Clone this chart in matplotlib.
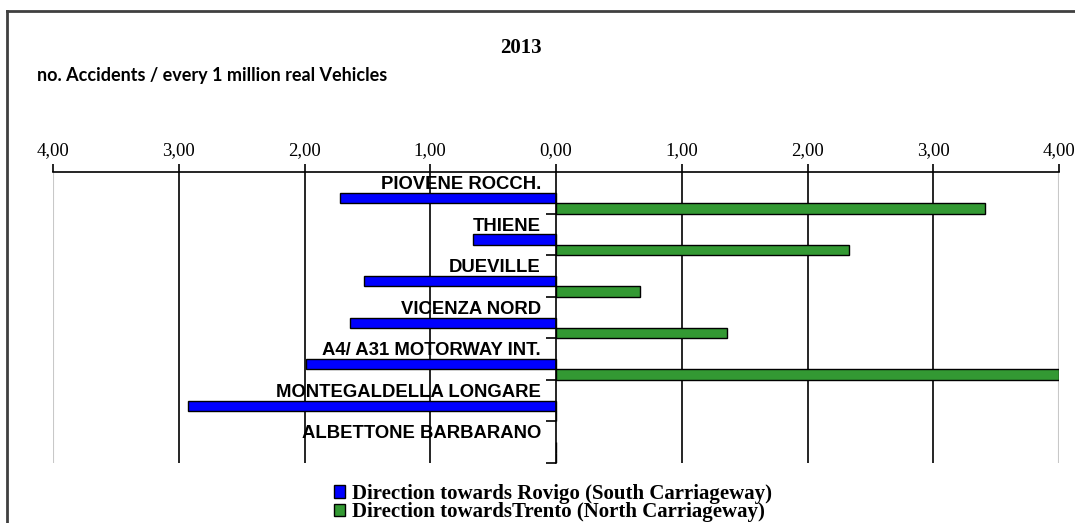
import numpy as np
import matplotlib
matplotlib.use("Agg")
import matplotlib.pyplot as plt
from matplotlib.lines import Line2D
from matplotlib.patches import Patch
from matplotlib.ticker import FuncFormatter

stations = ["PIOVENE ROCCH.", "THIENE", "DUEVILLE", "VICENZA NORD",
            "A4/ A31 MOTORWAY INT.", "MONTEGALDELLA LONGARE", "ALBETTONE BARBARANO"]
south = [1.72, 0.66, 1.53, 1.64, 1.99, 2.93, 0.0]   # towards Rovigo
north = [3.41, 2.33, 0.67, 1.36, 4.0, 0.0, 0.0]     # towards Trento
ticks = [-4, -3, -2, -1, 0, 1, 2, 3, 4]

W, H = 1075, 523
fig = plt.figure(figsize=(W / 100, H / 100), dpi=100)
ax = fig.add_axes([53 / W, 1 - 463 / H, (1059 - 53) / W, (463 - 172) / H])

y = np.arange(len(stations))
ax.barh(y + 0.125, [-v for v in south], height=0.25, color="#0000FF",
        edgecolor="black", linewidth=1, zorder=3)
ax.barh(y + 0.375, north, height=0.25, color="#339933",
        edgecolor="black", linewidth=1, zorder=3, clip_on=True)

for i, name in enumerate(stations):
    ax.text(-0.12, i - 0.2, name, ha="right", va="center", fontsize=13.3,
            fontweight="bold", family="Liberation Sans", zorder=4)

ax.set_xlim(-4, 4)
ax.set_ylim(len(stations) - 0.5, -0.5)

# vertical grid
for t in ticks:
    if t in (-4, 4):
        ax.axvline(t, color="#c8c8c8", lw=1.5, zorder=1)
    elif t != 0:
        ax.axvline(t, color="black", lw=1.2, zorder=1)

ax.xaxis.tick_top()
ax.set_xticks(ticks)
ax.xaxis.set_major_formatter(FuncFormatter(lambda v, p: f"{abs(v):.2f}".replace(".", ",")))
ax.tick_params(axis="x", direction="out", length=6, width=1.2, pad=3, labelsize=13.5)
for lab in ax.get_xticklabels():
    lab.set_family("Liberation Serif")

ax.spines["left"].set_position(("data", 0))
ax.spines["left"].set_linewidth(1.2)
ax.spines["left"].set_zorder(5)
ax.spines["top"].set_linewidth(1.2)
ax.spines["right"].set_visible(False)
ax.spines["bottom"].set_visible(False)
ax.set_yticks(y + 0.5)
ax.set_yticklabels([])
ax.tick_params(axis="y", direction="out", length=7, width=1.2)

fig.text(521 / W, 1 - 48 / H, "2013", ha="center", va="center", fontsize=15,
         fontweight="bold", family="Liberation Serif")
fig.text(37 / W, 1 - 75 / H, "no. Accidents / every 1 million real Vehicles",
         ha="left", va="center", fontsize=13, fontweight="bold", family="Lato")

handles = [Patch(facecolor="#0000FF", edgecolor="black", linewidth=1),
           Patch(facecolor="#339933", edgecolor="black", linewidth=1)]
labels = ["Direction towards Rovigo (South Carriageway)",
          "Direction towardsTrento (North Carriageway)"]
fig.legend(handles, labels, loc="upper left", bbox_to_anchor=(334 / W, 1 - 484 / H),
           frameon=False, prop={"family": "Liberation Serif", "weight": "bold", "size": 15},
           handlelength=0.55, handleheight=0.55, handletextpad=0.3, labelspacing=-0.08,
           borderpad=0, borderaxespad=0)

# frame of the chart area (only top and left visible)
fig.add_artist(Line2D([7 / W, 1], [1 - 11 / H] * 2, color="#404040", lw=2))
fig.add_artist(Line2D([7 / W] * 2, [0, 1 - 11 / H], color="#404040", lw=2))

fig.savefig("out.png", dpi=100)
